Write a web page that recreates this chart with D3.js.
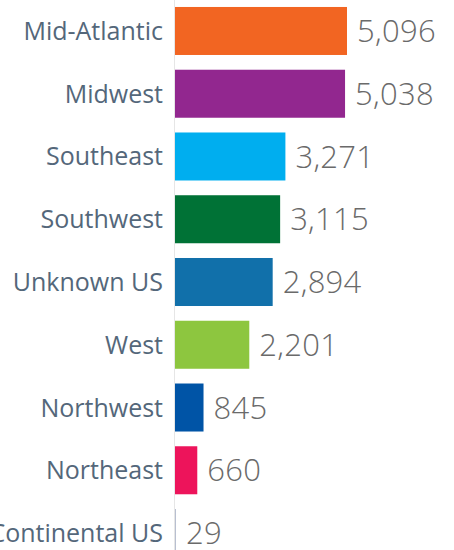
<!DOCTYPE html>
<meta charset="utf-8">
<script src="https://d3js.org/d3.v7.min.js"></script>
<style>
  body { margin: 0; background: #fff; }
</style>
<div id="my_dataviz"></div>
<script>

// Datos del gráfico
var regions = ["Mid-Atlantic", "Midwest", "Southeast", "Southwest", "Unknown US",
               "West", "Northwest", "Northeast", "Continental US"];
var counts = [5096, 5038, 3271, 3115, 2894, 2201, 845, 660, 29];
var colors = ["#f26522", "#92278f", "#00aeef", "#007236", "#1170aa",
              "#8dc63f", "#0054a6", "#ed145b", "#b8bfd0"];

var data = regions.map(function(r, i) { return {region: r, count: counts[i], color: colors[i]}; });

var width = 454, height = 550;

var svg = d3.select("#my_dataviz")
  .append("svg")
    .attr("width", width)
    .attr("height", height);

// Eje Y (categorías)
var y = d3.scaleBand()
  .domain(regions)
  .range([-0.4, 564.4])
  .paddingInner(0.235)
  .paddingOuter(0.1175);

// Eje X (valores)
var x = d3.scaleLinear()
  .domain([0, 5096])
  .range([175, 347]);

// línea del eje
svg.append("line")
  .attr("x1", 174.5).attr("x2", 174.5)
  .attr("y1", 0).attr("y2", height)
  .attr("stroke", "#e6e6e6")
  .attr("stroke-width", 1);

// barras
svg.selectAll(".bar")
  .data(data)
  .enter()
  .append("rect")
    .attr("class", "bar")
    .attr("x", x(0))
    .attr("y", function(d) { return y(d.region); })
    .attr("width", function(d) { return Math.max(1, x(d.count) - x(0)); })
    .attr("height", y.bandwidth())
    .attr("fill", function(d) { return d.color; });

// etiquetas de categoría
svg.selectAll(".label")
  .data(data)
  .enter()
  .append("text")
    .attr("class", "label")
    .attr("x", 163)
    .attr("y", function(d) { return y(d.region) + y.bandwidth() / 2; })
    .attr("dy", "0.36em")
    .attr("text-anchor", "end")
    .style("font-family", "'Open Sans', sans-serif")
    .style("font-size", "25px")
    .style("fill", "#54677a")
    .text(function(d) { return d.region; });

// valores
svg.selectAll(".value")
  .data(data)
  .enter()
  .append("text")
    .attr("class", "value")
    .attr("x", function(d) { return Math.max(x(d.count), x(0) + 1) + 10; })
    .attr("y", function(d) { return y(d.region) + y.bandwidth() / 2; })
    .attr("dy", "0.36em")
    .style("font-family", "'Open Sans', sans-serif")
    .style("font-weight", "300")
    .style("font-size", "31px")
    .style("letter-spacing", "0.3px")
    .style("fill", "#6a6a6a")
    .text(function(d) { return d3.format(",")(d.count); });

</script>
